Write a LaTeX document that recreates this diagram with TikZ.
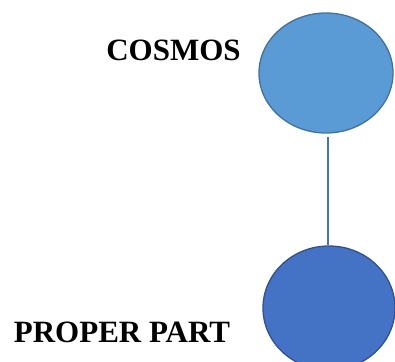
\documentclass[tikz,border=0pt]{standalone}
\usepackage{fontspec}
\setmainfont{Liberation Serif}
\usetikzlibrary{shapes.geometric}
\definecolor{cosmosfill}{HTML}{5B9BD5}
\definecolor{cosmosline}{HTML}{41719C}
\definecolor{partfill}{HTML}{4472C4}
\definecolor{partline}{HTML}{2F528F}
\begin{document}
\begin{tikzpicture}[x=1pt,y=1pt,line cap=butt,line join=miter,
	blob/.style={ellipse,draw,line width=1.3pt,inner sep=0pt,minimum width=134pt,minimum height=120pt},
	label/.style={font=\fontsize{31}{31}\selectfont\bfseries,anchor=base,inner sep=0pt}]
			\useasboundingbox (0,0) rectangle (395,361);
			\node[blob,fill=cosmosfill,draw=cosmosline] (cosmos) at (326,288) {};
			\node[blob,fill=partfill,draw=partline,minimum width=132pt,minimum height=124pt] (part) at (329,53) {};
			\draw[partfill,line width=1.4pt,shorten <=3pt] (cosmos.south -| 328,0) -- (part.north -| 328,0);
			\node[label] (cosmostext) at (173.5,300) {COSMOS};
			\node[label] (parttext) at (122,19) {PROPER PART};
		\end{tikzpicture}
\end{document}
